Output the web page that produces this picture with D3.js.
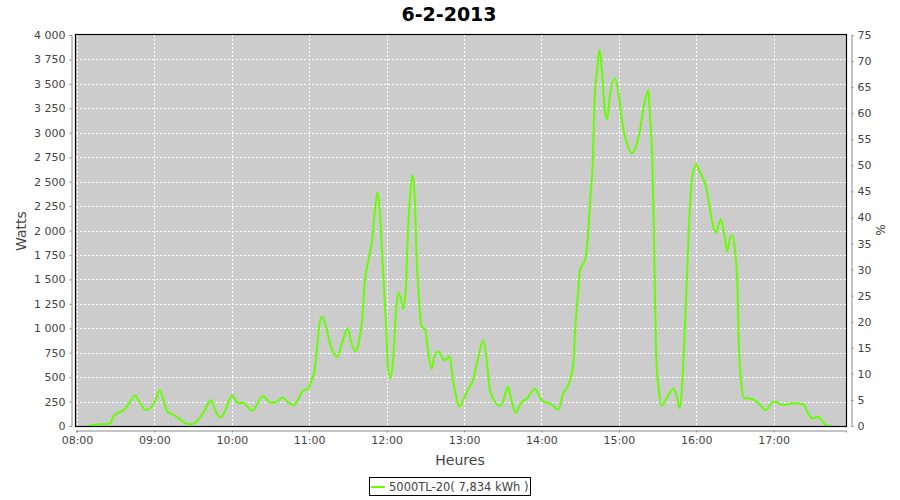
<!DOCTYPE html>
<html>
<head>
<meta charset="utf-8">
<script src="https://cdn.jsdelivr.net/npm/d3@7"></script>
<style>
  html, body { margin: 0; padding: 0; background: #ffffff; }
  svg { display: block; font-family: "DejaVu Sans", sans-serif; }
</style>
</head>
<body>
<svg id="chart" width="900" height="500"></svg>
<script>
const chartTitle = "6-2-2013";
const seriesName = "5000TL-20( 7,834 kWh )";
const xLabel = "Heures";
const yLabelLeft = "Watts";
const yLabelRight = "%";

const times = [
  "08:09","08:20","08:25","08:29","08:32","08:36","08:40","08:45","08:49","08:53","08:57",
  "09:01","09:04","09:07","09:10","09:15","09:20","09:25","09:29","09:34","09:38","09:41",
  "09:44","09:47","09:51","09:54","09:57","10:00","10:05","10:09","10:12","10:16","10:19",
  "10:24","10:30","10:34","10:39","10:44","10:48","10:52","10:55","10:59","11:02","11:04",
  "11:06","11:08","11:10","11:13","11:16","11:19","11:22","11:25","11:30","11:32","11:36",
  "11:38","11:41","11:43","11:46","11:49","11:51","11:53","11:55","11:57","12:00","12:01",
  "12:03","12:05","12:07","12:09","12:11","12:13","12:15","12:16","12:18","12:20","12:22",
  "12:23","12:25","12:27","12:30","12:32","12:35","12:37","12:40","12:45","12:49","12:51",
  "12:54","12:56","13:00","13:03","13:07","13:10","13:15","13:18","13:20","13:23","13:28",
  "13:31","13:34","13:36","13:40","13:44","13:49","13:55","14:00","14:07","14:13","14:17",
  "14:20","14:23","14:25","14:26","14:28","14:30","14:34","14:36","14:38","14:40","14:41",
  "14:43","14:45","14:47","14:49","14:51","14:53","14:57","15:00","15:02","15:04","15:07",
  "15:10","15:13","15:16","15:20","15:23","15:24","15:26","15:27","15:28","15:29","15:31",
  "15:33","15:37","15:42","15:45","15:47","15:50","15:52","15:55","15:57","16:00","16:03",
  "16:07","16:09","16:12","16:15","16:17","16:19","16:22","16:24","16:26","16:28","16:30",
  "16:32","16:33","16:35","16:37","16:40","16:47","16:54","17:00","17:08","17:15","17:23",
  "17:26","17:30","17:35","17:38","17:41","17:45"
];
const watts = [
  0,20,20,110,136,160,225,310,232,164,185,
  267,369,267,147,113,68,20,20,62,137,215,
  267,164,89,130,232,311,232,239,198,157,205,
  308,239,243,291,239,215,284,362,379,472,560,
  780,1053,1115,1019,848,745,711,831,1001,882,762,
  831,1087,1463,1703,1925,2215,2393,2147,1634,916,608,
  489,677,1121,1361,1310,1197,1429,1805,2318,2564,2284,
  1805,1327,1019,985,780,585,711,762,670,711,506,
  301,198,284,369,472,643,875,620,369,267,205,
  284,403,301,137,232,284,379,267,226,171,335,
  397,506,677,951,1300,1600,1703,1942,2352,2762,3275,
  3617,3849,3617,3241,3138,3378,3556,3378,3172,3002,2865,
  2790,2848,3002,3310,3439,3207,2694,2113,1327,711,369,
  205,284,379,301,181,643,1258,2215,2557,2677,2592,
  2472,2352,2113,1976,2044,2113,1942,1788,1908,1949,1805,
  1395,848,438,284,284,250,164,250,215,232,222,
  147,79,95,44,7,0
];
const leftTicks = [0,250,500,750,1000,1250,1500,1750,2000,2250,2500,2750,3000,3250,3500,3750,4000];
const rightTicks = [0,5,10,15,20,25,30,35,40,45,50,55,60,65,70,75];
const hourTicks = ["08:00","09:00","10:00","11:00","12:00","13:00","14:00","15:00","16:00","17:00"];

const parse = d3.timeParse("%Y-%m-%d %H:%M");
const day = "2013-02-06 ";
const data = times.map((t, i) => ({ t: parse(day + t), w: watts[i] }));

const svg = d3.select("#chart");
const plot = { left: 76, right: 846, top: 35, bottom: 426 };

const x = d3.scaleTime()
  .domain([new Date(2013, 1, 6, 7, 59, 13), new Date(2013, 1, 6, 17, 56, 6)])
  .range([plot.left, plot.right]);
const y = d3.scaleLinear().domain([0, 4000]).range([plot.bottom, plot.top]);
const y2 = d3.scaleLinear().domain([0, 75]).range([plot.bottom, plot.top]);

const fmtW = d => d3.format(",")(d).replace(/,/g, " ");
const hourDates = hourTicks.map(h => parse(day + h));

// plot background
svg.append("rect")
  .attr("x", plot.left).attr("y", plot.top)
  .attr("width", plot.right - plot.left).attr("height", plot.bottom - plot.top)
  .attr("fill", "#cccccc");

// grid
const grid = svg.append("g").attr("stroke", "#ffffff").attr("stroke-width", 1)
  .attr("stroke-dasharray", "2,2").attr("shape-rendering", "crispEdges");
grid.selectAll(".hg").data(leftTicks.filter(d => d > 0 && d < 4000)).join("line")
  .attr("x1", plot.left).attr("x2", plot.right)
  .attr("y1", d => Math.round(y(d)) + 0.5).attr("y2", d => Math.round(y(d)) + 0.5);
grid.selectAll(".vg").data(hourDates).join("line")
  .attr("y1", plot.top).attr("y2", plot.bottom)
  .attr("x1", d => Math.round(x(d)) + 0.5).attr("x2", d => Math.round(x(d)) + 0.5);

// line
const line = d3.line().x(d => x(d.t)).y(d => y(d.w)).curve(d3.curveMonotoneX);
svg.append("path").datum(data)
  .attr("d", line)
  .attr("fill", "none").attr("stroke", "#66ff00").attr("stroke-width", 2)
  .attr("stroke-linejoin", "round");

// plot border
svg.append("rect")
  .attr("x", plot.left - 0.5).attr("y", plot.top - 0.5)
  .attr("width", plot.right - plot.left + 1).attr("height", plot.bottom - plot.top + 1)
  .attr("fill", "none").attr("stroke", "#000000").attr("stroke-width", 1.2);

function styleAxis(g) {
  g.selectAll("path.domain").attr("stroke", "#888888");
  g.selectAll(".tick line").attr("stroke", "#888888");
  g.selectAll(".tick text").attr("fill", "#444444")
    .style("font-family", "'DejaVu Sans', sans-serif").style("font-size", "11px");
}

// left axis
const gL = svg.append("g").attr("transform", `translate(${plot.left - 4.5},0)`)
  .call(d3.axisLeft(y).tickValues(leftTicks).tickFormat(fmtW).tickSizeOuter(0).tickSize(2).tickPadding(4));
styleAxis(gL);

// right axis
const gR = svg.append("g").attr("transform", `translate(${plot.right + 5.5},0)`)
  .call(d3.axisRight(y2).tickValues(rightTicks).tickSizeOuter(0).tickSize(2).tickPadding(4));
styleAxis(gR);

// bottom axis
const gB = svg.append("g").attr("transform", `translate(0,${plot.bottom + 4.5})`)
  .call(d3.axisBottom(x).tickValues(hourDates).tickFormat(d3.timeFormat("%H:%M")).tickSizeOuter(0).tickSize(2).tickPadding(4));
styleAxis(gB);

// title
svg.append("text").attr("x", 449).attr("y", 21).attr("text-anchor", "middle")
  .style("font-family", "'DejaVu Sans', sans-serif").style("font-size", "19px").style("font-weight", "bold")
  .attr("fill", "#000000").text(chartTitle);

// axis labels
svg.append("text").attr("x", 460).attr("y", 465).attr("text-anchor", "middle")
  .style("font-size", "14px").attr("fill", "#444444").text(xLabel);
svg.append("text").attr("transform", "translate(26,231) rotate(-90)").attr("text-anchor", "middle")
  .style("font-size", "14px").attr("fill", "#444444").text(yLabelLeft);
svg.append("text").attr("transform", "translate(876,230) rotate(90)").attr("text-anchor", "middle")
  .style("font-size", "12px").attr("fill", "#444444").text(yLabelRight);

// legend
const lg = svg.append("g");
lg.append("rect").attr("x", 369.5).attr("y", 477.5).attr("width", 161).attr("height", 18)
  .attr("fill", "#ffffff").attr("stroke", "#000000").attr("stroke-width", 1);
lg.append("line").attr("x1", 371).attr("x2", 385).attr("y1", 487).attr("y2", 487)
  .attr("stroke", "#66ff00").attr("stroke-width", 2);
lg.append("text").attr("x", 389).attr("y", 491)
  .style("font-size", "11.5px").attr("fill", "#444444").text(seriesName);
</script>
</body>
</html>
